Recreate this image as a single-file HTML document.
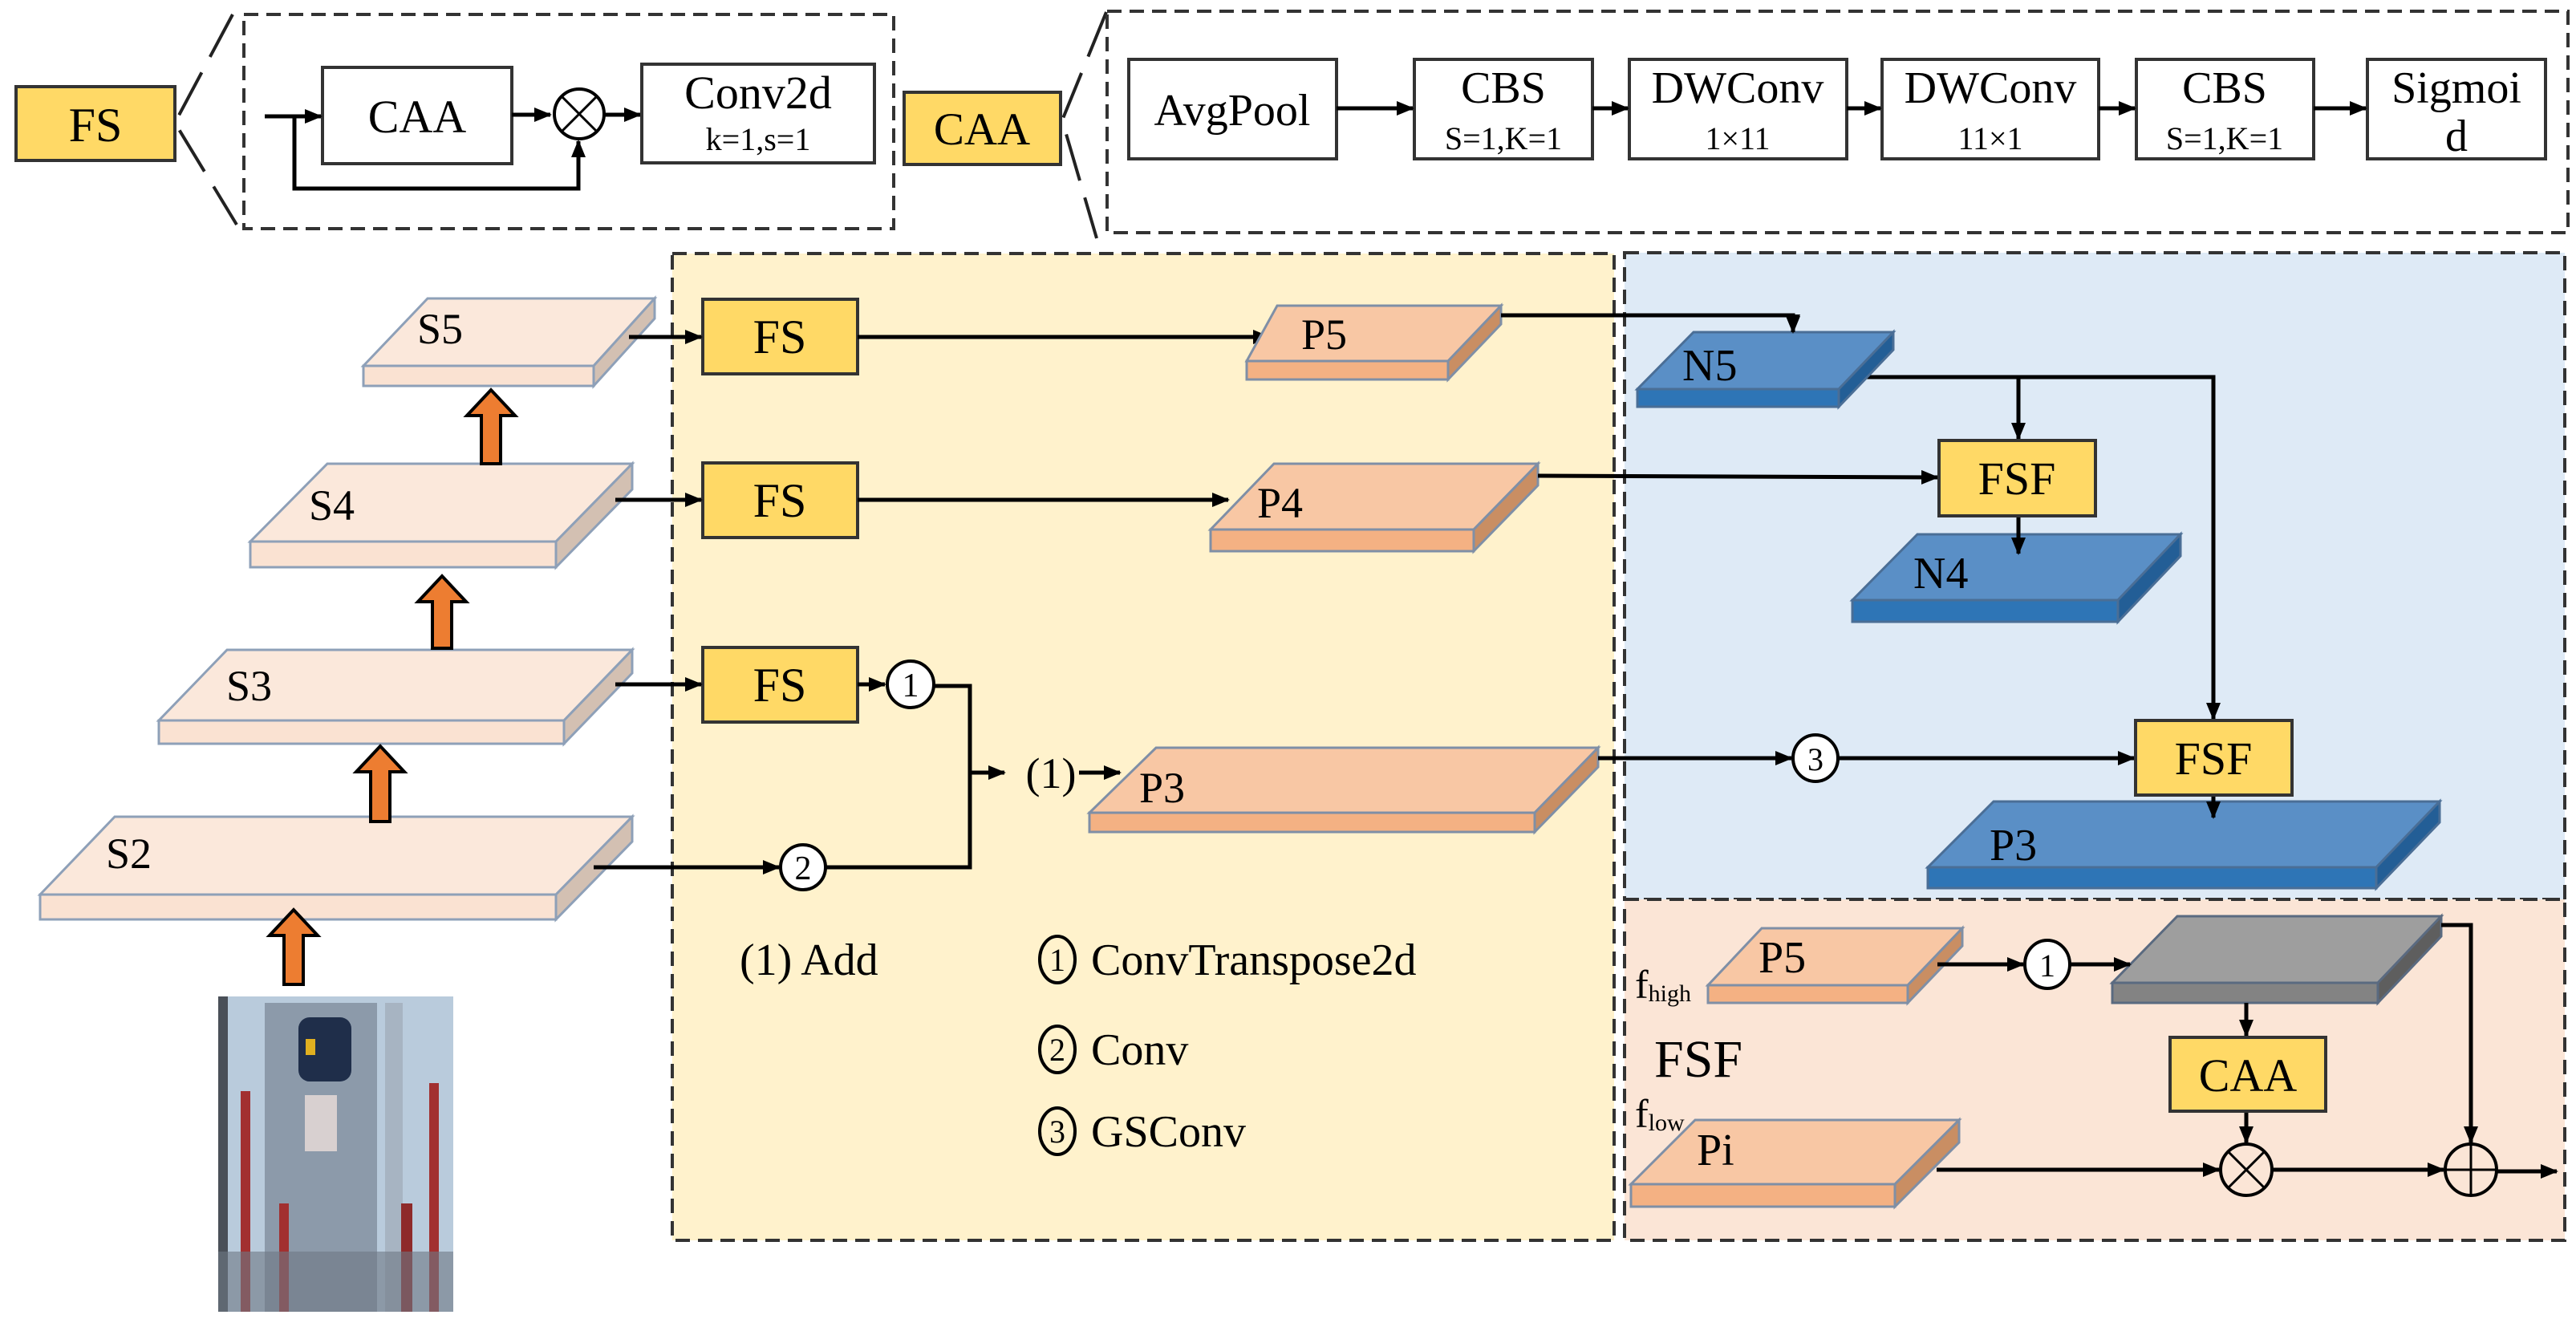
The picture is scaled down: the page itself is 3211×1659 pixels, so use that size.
<!DOCTYPE html>
<html><head><meta charset="utf-8"><style>html,body{margin:0;padding:0;background:#fff}svg{display:block}svg text{font-family:"Liberation Serif","DejaVu Serif",serif}</style></head>
<body>
<svg width="3211" height="1659" viewBox="0 0 3211 1659" xmlns="http://www.w3.org/2000/svg" style='font-family:"Liberation Serif",serif'>
<defs>
<marker id="a" markerUnits="userSpaceOnUse" markerWidth="22" markerHeight="18" refX="20" refY="9" orient="auto"><path d="M0,0 L22,9 L0,18 z" fill="#000"/></marker>
</defs>
<rect width="3211" height="1659" fill="#fff"/>

<!-- ===== Top row ===== -->
<rect x="20" y="108" width="198" height="92" fill="#FFD966" stroke="#333" stroke-width="4"/>
<text x="119" y="176" font-size="60" text-anchor="middle">FS</text>
<path d="M290,18 L218,153 L295,280" fill="none" stroke="#222" stroke-width="4" stroke-dasharray="60 22"/>
<rect x="304" y="18" width="810" height="267" fill="none" stroke="#333" stroke-width="4" stroke-dasharray="18 10"/>
<rect x="402" y="84" width="236" height="120" fill="#fff" stroke="#333" stroke-width="4"/>
<text x="520" y="165" font-size="58" text-anchor="middle">CAA</text>
<line x1="330" y1="145" x2="400" y2="145" stroke="#000" stroke-width="5" marker-end="url(#a)"/>
<polyline points="367,145 367,235 721,235 721,176" fill="none" stroke="#000" stroke-width="5" marker-end="url(#a)"/>
<line x1="638" y1="143" x2="686" y2="143" stroke="#000" stroke-width="5" marker-end="url(#a)"/>
<circle cx="722" cy="142" r="31" fill="#fff" stroke="#000" stroke-width="4"/>
<path d="M700,120 L744,164 M744,120 L700,164" stroke="#000" stroke-width="3"/>
<line x1="754" y1="143" x2="798" y2="143" stroke="#000" stroke-width="5" marker-end="url(#a)"/>
<rect x="800" y="80" width="290" height="123" fill="#fff" stroke="#333" stroke-width="4"/>
<text x="945" y="135" font-size="58" text-anchor="middle">Conv2d</text>
<text x="945" y="187" font-size="40" text-anchor="middle">k=1,s=1</text>

<rect x="1127" y="115" width="195" height="90" fill="#FFD966" stroke="#333" stroke-width="4"/>
<text x="1224" y="180" font-size="57" text-anchor="middle">CAA</text>
<path d="M1379,15 L1324,150 L1367,297" fill="none" stroke="#222" stroke-width="4" stroke-dasharray="60 22"/>
<rect x="1380" y="14" width="1821" height="276" fill="none" stroke="#333" stroke-width="4" stroke-dasharray="18 10"/>
<g stroke="#333" stroke-width="4" fill="#fff">
<rect x="1407" y="74" width="259" height="124"/>
<rect x="1763" y="74" width="222" height="124"/>
<rect x="2031" y="74" width="271" height="124"/>
<rect x="2346" y="74" width="270" height="124"/>
<rect x="2663" y="74" width="221" height="124"/>
<rect x="2951" y="74" width="222" height="124"/>
</g>
<g stroke="#000" stroke-width="5" marker-end="url(#a)">
<line x1="1666" y1="135" x2="1761" y2="135"/>
<line x1="1985" y1="135" x2="2029" y2="135"/>
<line x1="2302" y1="135" x2="2344" y2="135"/>
<line x1="2616" y1="135" x2="2661" y2="135"/>
<line x1="2884" y1="135" x2="2949" y2="135"/>
</g>
<g font-size="56" text-anchor="middle">
<text x="1536" y="156">AvgPool</text>
<text x="1874" y="128">CBS</text>
<text x="2166" y="128">DWConv</text>
<text x="2481" y="128">DWConv</text>
<text x="2773" y="128">CBS</text>
<text x="3062" y="128">Sigmoi</text>
<text x="3062" y="188">d</text>
</g>
<g font-size="40" text-anchor="middle">
<text x="1874" y="186">S=1,K=1</text>
<text x="2166" y="186">1×11</text>
<text x="2481" y="186">11×1</text>
<text x="2773" y="186">S=1,K=1</text>
</g>

<!-- ===== Panels ===== -->
<rect x="838" y="316" width="1174" height="1230" fill="#FFF2CC" stroke="#333" stroke-width="4" stroke-dasharray="18 10"/>
<rect x="2025" y="315" width="1172" height="806" fill="#DEEAF6" stroke="#333" stroke-width="4" stroke-dasharray="18 10"/>
<rect x="2025" y="1121" width="1172" height="425" fill="#FBE5D6" stroke="#333" stroke-width="4" stroke-dasharray="18 10"/>

<!-- ===== S slabs ===== -->
<g stroke="#8EA0B8" stroke-width="3">
<polygon points="453,456 740,456 816,372 533,372" fill="#FBE8DB"/>
<rect x="453" y="456" width="287" height="25" fill="#FAE2D2"/>
<polygon points="740,456 816,372 816,397 740,481" fill="#D3C0B2"/>

<polygon points="312,675 693,675 788,578 408,578" fill="#FBE8DB"/>
<rect x="312" y="675" width="381" height="32" fill="#FAE2D2"/>
<polygon points="693,675 788,578 788,610 693,707" fill="#D3C0B2"/>

<polygon points="198,898 703,898 788,810 283,810" fill="#FBE8DB"/>
<rect x="198" y="898" width="505" height="29" fill="#FAE2D2"/>
<polygon points="703,898 788,810 788,839 703,927" fill="#D3C0B2"/>

<polygon points="50,1115 693,1115 788,1018 143,1018" fill="#FBE8DB"/>
<rect x="50" y="1115" width="643" height="31" fill="#FAE2D2"/>
<polygon points="693,1115 788,1018 788,1049 693,1146" fill="#D3C0B2"/>
</g>
<g font-size="54">
<text x="520" y="428">S5</text>
<text x="385" y="648">S4</text>
<text x="282" y="873">S3</text>
<text x="132" y="1082">S2</text>
</g>

<!-- orange up arrows -->
<g fill="#ED7D31" stroke="#000" stroke-width="4">
<polygon points="600,578 624,578 624,518 642,518 612,486 582,518 600,518"/>
<polygon points="539,808 563,808 563,750 581,750 551,718 521,750 539,750"/>
<polygon points="462,1024 486,1024 486,962 504,962 474,930 444,962 462,962"/>
<polygon points="354,1227 378,1227 378,1166 396,1166 366,1134 336,1166 354,1166"/>
</g>

<!-- photo -->
<g>
<rect x="272" y="1242" width="293" height="393" fill="#B9CBDC"/>
<rect x="272" y="1242" width="12" height="393" fill="#4A5058"/>
<rect x="330" y="1250" width="140" height="385" fill="#8C9AAA"/>
<rect x="372" y="1268" width="66" height="80" rx="14" fill="#1F2E4A"/>
<rect x="381" y="1295" width="12" height="20" fill="#E0B020"/>
<rect x="380" y="1365" width="40" height="70" fill="#D8D0D0"/>
<rect x="480" y="1250" width="22" height="385" fill="#A7B4C2"/>
<rect x="300" y="1360" width="12" height="275" fill="#A23030"/>
<rect x="348" y="1500" width="12" height="135" fill="#A23030"/>
<rect x="535" y="1350" width="12" height="285" fill="#A23030"/>
<rect x="500" y="1500" width="14" height="135" fill="#8E2A2A"/>
<rect x="272" y="1560" width="293" height="75" fill="#6E7884" opacity="0.6"/>
</g>

<!-- FS boxes -->
<g fill="#FFD966" stroke="#333" stroke-width="4">
<rect x="876" y="373" width="193" height="93"/>
<rect x="876" y="577" width="193" height="93"/>
<rect x="876" y="807" width="193" height="93"/>
</g>
<g font-size="60" text-anchor="middle">
<text x="972" y="440">FS</text>
<text x="972" y="644">FS</text>
<text x="972" y="874">FS</text>
</g>
<g stroke="#000" stroke-width="5" fill="none">
<line x1="784" y1="420" x2="874" y2="420" marker-end="url(#a)"/>
<line x1="767" y1="623" x2="874" y2="623" marker-end="url(#a)"/>
<line x1="767" y1="853" x2="874" y2="853" marker-end="url(#a)"/>
<line x1="1069" y1="420" x2="1582" y2="420" marker-end="url(#a)"/>
<line x1="1069" y1="623" x2="1531" y2="623" marker-end="url(#a)"/>
<line x1="1069" y1="853" x2="1103" y2="853" marker-end="url(#a)"/>
<polyline points="1163,855 1209,855 1209,1081 1029,1081"/>
<line x1="740" y1="1081" x2="971" y2="1081" marker-end="url(#a)"/>
<line x1="1209" y1="963" x2="1252" y2="963" marker-end="url(#a)"/>
<line x1="1345" y1="963" x2="1396" y2="963" marker-end="url(#a)"/>
</g>
<g fill="#fff" stroke="#000" stroke-width="4">
<ellipse cx="1135" cy="853" rx="29" ry="29"/>
<ellipse cx="1001" cy="1081" rx="28" ry="28"/>
</g>
<g font-size="42" text-anchor="middle">
<text x="1135" y="868">1</text>
<text x="1001" y="1096">2</text>
</g>
<text x="1310" y="982" font-size="54" text-anchor="middle">(1)</text>

<!-- P slabs (orange) -->
<g stroke="#7F8FA6" stroke-width="3">
<polygon points="1554,450 1805,450 1871,381 1592,381" fill="#F8C7A4"/>
<rect x="1554" y="450" width="251" height="23" fill="#F4B183"/>
<polygon points="1805,450 1871,381 1871,404 1805,473" fill="#C98E63"/>

<polygon points="1509,660 1837,660 1917,578 1588,578" fill="#F8C7A4"/>
<rect x="1509" y="660" width="328" height="27" fill="#F4B183"/>
<polygon points="1837,660 1917,578 1917,605 1837,687" fill="#C98E63"/>

<polygon points="1358,1013 1913,1013 1992,932 1441,932" fill="#F8C7A4"/>
<rect x="1358" y="1013" width="555" height="24" fill="#F4B183"/>
<polygon points="1913,1013 1992,932 1992,956 1913,1037" fill="#C98E63"/>
</g>
<g font-size="54">
<text x="1622" y="435">P5</text>
<text x="1567" y="645">P4</text>
<text x="1420" y="1000">P3</text>
</g>

<!-- Legend -->
<g font-size="56">
<text x="922" y="1215">(1) Add</text>
<text x="1360" y="1215">ConvTranspose2d</text>
<text x="1360" y="1327">Conv</text>
<text x="1360" y="1429">GSConv</text>
</g>
<g fill="none" stroke="#000" stroke-width="4">
<ellipse cx="1318" cy="1196" rx="22" ry="29"/>
<ellipse cx="1318" cy="1308" rx="22" ry="29"/>
<ellipse cx="1318" cy="1410" rx="22" ry="29"/>
</g>
<g font-size="40" text-anchor="middle">
<text x="1318" y="1210">1</text>
<text x="1318" y="1322">2</text>
<text x="1318" y="1424">3</text>
</g>

<!-- ===== Blue panel ===== -->
<g stroke="#000" stroke-width="5" fill="none">
<polyline points="1871,393 2235,393 2235,412" marker-end="url(#a)"/>
<polyline points="2313,470 2759,470 2759,896" marker-end="url(#a)"/>
<line x1="2516" y1="470" x2="2516" y2="547" marker-end="url(#a)"/>
<line x1="1917" y1="593" x2="2415" y2="595" marker-end="url(#a)"/>
<line x1="1992" y1="945" x2="2233" y2="945" marker-end="url(#a)"/>
<line x1="2291" y1="945" x2="2660" y2="945" marker-end="url(#a)"/>
</g>
<ellipse cx="2263" cy="945" rx="28" ry="29" fill="#fff" stroke="#000" stroke-width="4"/>
<text x="2263" y="960" font-size="40" text-anchor="middle">3</text>

<g stroke="#4A6E96" stroke-width="3">
<polygon points="2041,485 2292,485 2360,414 2111,414" fill="#5A8FC6"/>
<rect x="2041" y="485" width="251" height="22" fill="#2E75B6"/>
<polygon points="2292,485 2360,414 2360,436 2292,507" fill="#235E96"/>

<polygon points="2309,748 2640,748 2718,666 2390,666" fill="#5A8FC6"/>
<rect x="2309" y="748" width="331" height="27" fill="#2E75B6"/>
<polygon points="2640,748 2718,666 2718,693 2640,775" fill="#235E96"/>

<polygon points="2403,1081 2962,1081 3041,999 2485,999" fill="#5A8FC6"/>
<rect x="2403" y="1081" width="559" height="26" fill="#2E75B6"/>
<polygon points="2962,1081 3041,999 3041,1025 2962,1107" fill="#235E96"/>
</g>
<line x1="2516" y1="643" x2="2516" y2="690" stroke="#000" stroke-width="5" marker-end="url(#a)"/>
<line x1="2759" y1="991" x2="2759" y2="1019" stroke="#000" stroke-width="5" marker-end="url(#a)"/>
<line x1="2235" y1="393" x2="2235" y2="414" stroke="#000" stroke-width="5" marker-end="url(#a)"/>
<g font-size="56">
<text x="2097" y="474">N5</text>
<text x="2385" y="733">N4</text>
<text x="2480" y="1072">P3</text>
</g>
<g fill="#FFD966" stroke="#333" stroke-width="4">
<rect x="2417" y="549" width="195" height="94"/>
<rect x="2662" y="898" width="195" height="93"/>
</g>
<g font-size="58" text-anchor="middle">
<text x="2514" y="616">FSF</text>
<text x="2759" y="965">FSF</text>
</g>

<!-- ===== FSF panel ===== -->
<g stroke="#7F8FA6" stroke-width="3">
<polygon points="2129,1228 2378,1228 2446,1157 2196,1157" fill="#F8C7A4"/>
<rect x="2129" y="1228" width="249" height="22" fill="#F4B183"/>
<polygon points="2378,1228 2446,1157 2446,1179 2378,1250" fill="#C98E63"/>

<polygon points="2033,1476 2362,1476 2442,1396 2113,1396" fill="#F8C7A4"/>
<rect x="2033" y="1476" width="329" height="28" fill="#F4B183"/>
<polygon points="2362,1476 2442,1396 2442,1424 2362,1504" fill="#C98E63"/>
</g>
<g stroke="#5A6A80" stroke-width="3">
<polygon points="2633,1225 2964,1225 3043,1142 2714,1142" fill="#9E9E9E"/>
<rect x="2633" y="1225" width="331" height="25" fill="#838383"/>
<polygon points="2964,1225 3043,1142 3043,1167 2964,1250" fill="#5E5E5E"/>
</g>
<g font-size="56">
<text x="2192" y="1212">P5</text>
<text x="2115" y="1452">Pi</text>
</g>
<text x="2038" y="1244" font-size="50">f<tspan font-size="30" dy="4">high</tspan></text>
<text x="2038" y="1405" font-size="50">f<tspan font-size="30" dy="4">low</tspan></text>
<text x="2062" y="1342" font-size="66">FSF</text>

<g stroke="#000" stroke-width="5" fill="none">
<line x1="2415" y1="1202" x2="2522" y2="1202" marker-end="url(#a)"/>
<line x1="2580" y1="1202" x2="2655" y2="1202" marker-end="url(#a)"/>
<polyline points="3043,1153 3080,1153 3080,1424" marker-end="url(#a)"/>
<line x1="2800" y1="1250" x2="2800" y2="1291" marker-end="url(#a)"/>
<line x1="2800" y1="1385" x2="2800" y2="1424" marker-end="url(#a)"/>
<line x1="2414" y1="1458" x2="2766" y2="1458" marker-end="url(#a)"/>
<line x1="2832" y1="1458" x2="3046" y2="1458" marker-end="url(#a)"/>
<line x1="3112" y1="1460" x2="3187" y2="1460" marker-end="url(#a)"/>
</g>
<ellipse cx="2552" cy="1202" rx="28" ry="30" fill="#fff" stroke="#000" stroke-width="4"/>
<text x="2552" y="1217" font-size="40" text-anchor="middle">1</text>
<rect x="2705" y="1293" width="194" height="92" fill="#FFD966" stroke="#333" stroke-width="4"/>
<text x="2802" y="1360" font-size="58" text-anchor="middle">CAA</text>
<circle cx="2800" cy="1458" r="32" fill="none" stroke="#000" stroke-width="4"/>
<path d="M2777,1435 L2823,1481 M2823,1435 L2777,1481" stroke="#000" stroke-width="3"/>
<circle cx="3080" cy="1458" r="32" fill="none" stroke="#000" stroke-width="4"/>
<path d="M3080,1426 L3080,1490 M3048,1458 L3112,1458" stroke="#000" stroke-width="3"/>
</svg>
</body></html>
